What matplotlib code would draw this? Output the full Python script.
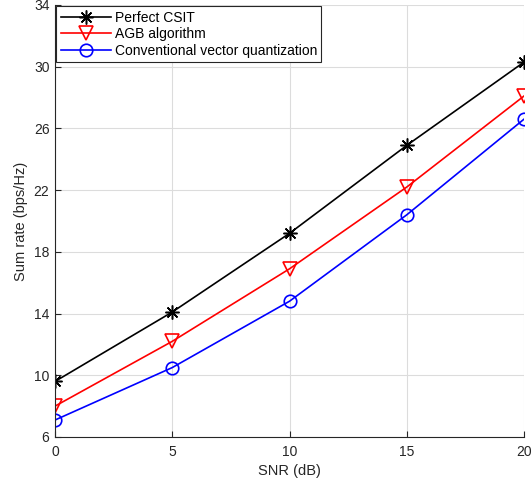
import matplotlib
matplotlib.use('Agg')
import matplotlib.pyplot as plt

snr = [0, 5, 10, 15, 20]
perfect_csit = [9.6, 14.1, 19.2, 24.9, 30.3]
agb = [8.0, 12.2, 16.9, 22.2, 28.1]
conventional = [7.1, 10.5, 14.8, 20.4, 26.6]

plt.rcParams['font.family'] = ['Liberation Sans', 'DejaVu Sans']
plt.rcParams['font.size'] = 10

fig = plt.figure(figsize=(5.32, 4.84), dpi=100)
ax = fig.add_axes([55/532, 47/484, 469/532, 432/484])

ax.plot(snr, perfect_csit, color='black', marker=(8, 2, 0), markersize=10, linewidth=1.2,
        markeredgewidth=1.1, label='Perfect CSIT')
ax.plot(snr, agb, color='red', marker='v', markersize=10, linewidth=1.2,
        markerfacecolor='none', markeredgewidth=1.2, label='AGB algorithm')
ax.plot(snr, conventional, color='blue', marker='o', markersize=9, linewidth=1.2,
        markerfacecolor='none', markeredgewidth=1.2, label='Conventional vector quantization')

ax.set_xlim(0, 20)
ax.set_ylim(6, 34)
ax.set_xticks([0, 5, 10, 15, 20])
ax.set_yticks(range(6, 35, 4))
ax.grid(True, color='#dcdcdc', linewidth=0.8)
ax.set_axisbelow(True)
for s in ['top', 'right']:
    ax.spines[s].set_visible(False)
for s in ['left', 'bottom']:
    ax.spines[s].set_color('#262626')
    ax.spines[s].set_linewidth(0.8)
ax.tick_params(direction='in', length=4, colors='#262626', labelsize=10)
ax.tick_params(axis='x', pad=6)
ax.tick_params(axis='y', pad=4)
ax.set_xlabel('SNR (dB)', color='#262626', fontsize=10.5, labelpad=3)
ax.set_ylabel('Sum rate (bps/Hz)', color='#262626', fontsize=10.5)

leg = ax.legend(loc='upper left', bbox_to_anchor=(0.0, 1.0), fancybox=False,
                edgecolor='#262626', framealpha=1, borderaxespad=0.1,
                handlelength=3.6, handletextpad=0.3, labelspacing=0.2,
                borderpad=0.3, fontsize=10)
leg.get_frame().set_linewidth(0.8)

fig.savefig('out.png', dpi=100)
